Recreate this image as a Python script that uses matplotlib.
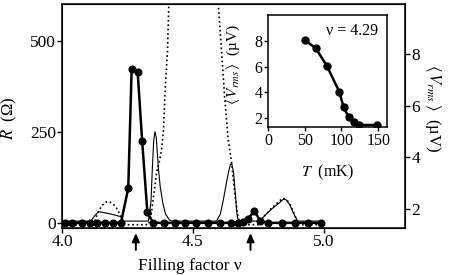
import matplotlib
matplotlib.use('Agg')
import matplotlib.pyplot as plt

plt.rcParams['font.family'] = ['Liberation Serif', 'DejaVu Serif']
plt.rcParams['mathtext.fontset'] = 'stix'

# thick line with markers: noise <V_rms> (uV) vs filling factor
nu_noise = [4.01, 4.04, 4.075, 4.105, 4.135, 4.165, 4.195, 4.225, 4.253, 4.266, 4.289,
            4.306, 4.326, 4.348, 4.39, 4.431, 4.47, 4.51, 4.558, 4.603, 4.647, 4.673,
            4.692, 4.71, 4.735, 4.757, 4.785, 4.84, 4.89, 4.94, 4.99]
v_noise = [1.46, 1.46, 1.46, 1.46, 1.46, 1.46, 1.46, 1.46, 2.80, 7.43, 7.30,
           4.65, 1.87, 1.46, 1.46, 1.46, 1.46, 1.46, 1.46, 1.46, 1.46, 1.46,
           1.50, 1.61, 1.92, 1.54, 1.46, 1.46, 1.46, 1.46, 1.46]

# thin solid line: R (Ohm)
nu_r1 = [4.00, 4.11, 4.125, 4.14, 4.17, 4.20, 4.225, 4.235, 4.33, 4.34, 4.345, 4.35,
         4.355, 4.36, 4.368, 4.375, 4.385, 4.395, 4.41, 4.42, 4.59, 4.605, 4.616,
         4.628, 4.635, 4.643, 4.648, 4.655, 4.662, 4.668, 4.673, 4.755, 4.76, 4.80,
         4.83, 4.845, 4.855, 4.87, 4.885, 4.90, 5.00]
r1 = [5, 5, 20, 31, 27, 22, 17, 5, 5, 60, 150, 225,
      251, 235, 151, 100, 55, 25, 8, 5, 5, 25, 63,
      110, 137, 160, 164, 140, 80, 25, 5, 5, 10, 38,
      55, 65, 64, 50, 25, 5, 5]

# dotted line: R (Ohm) at another temperature
nu_r2 = [4.00, 4.12, 4.135, 4.15, 4.165, 4.177, 4.19, 4.205, 4.22, 4.23, 4.24, 4.33,
         4.34, 4.35, 4.361, 4.372, 4.38, 4.387, 4.395, 4.403, 4.41, 4.45, 4.5, 4.55,
         4.59, 4.597, 4.609, 4.622, 4.635, 4.648, 4.66, 4.673, 4.686, 4.76, 4.77,
         4.80, 4.83, 4.845, 4.86, 4.875, 4.89, 4.90, 5.00]
r2 = [-5, -5, 25, 45, 57, 59, 55, 45, 25, 10, -5, -5,
      20, 75, 137, 170, 200, 250, 380, 475, 650, 1000, 1200, 1000,
      700, 600, 475, 338, 228, 164, 80, 13, -5, -5, 17,
      40, 60, 68, 62, 45, 20, -5, -5]

# inset: <V_rms> vs T at nu = 4.29
t_inset = [50, 65, 80, 97, 103, 110, 117, 124, 148]
v_inset = [8.07, 7.42, 6.07, 4.05, 2.83, 2.05, 1.66, 1.46, 1.46]

arrow_nu = [4.282, 4.72]

fig = plt.figure(figsize=(4.5, 2.75), dpi=100)
ax = fig.add_axes([0.1378, 0.1709, 0.7622, 0.8146])
ax.plot(nu_r1, r1, color='black', lw=0.8)
ax.plot(nu_r2, r2, color='black', lw=1.2, ls=':')
ax.set_xlim(4.0, 5.31)
ax.set_ylim(-14, 602)
ax.set_xticks([4.0, 4.5, 5.0])
ax.set_xticklabels(['4.0', '4.5', '5.0'])
ax.set_yticks([0, 250, 500])
ax.tick_params(direction='out', length=3.5, width=1, labelsize=12.5, pad=1)
for s in ax.spines.values():
    s.set_linewidth(1.1)
ax.set_xlabel('Filling factor ν', fontsize=12.5)
ax.set_ylabel(r'$R$  (Ω)', fontsize=12)
ax.yaxis.set_label_coords(-0.125, 0.49)
ax.xaxis.set_label_coords(0.373, -0.135)

for a in arrow_nu:
    ax.annotate('', xy=(a, -0.01), xytext=(a, -0.11),
                xycoords=('data', 'axes fraction'), textcoords=('data', 'axes fraction'),
                arrowprops=dict(arrowstyle='-|>,head_width=0.22,head_length=0.5',
                                color='black', lw=1.4), annotation_clip=False)

ax2 = ax.twinx()
ax2.plot(nu_noise, v_noise, color='black', lw=1.8, marker='o', ms=4.8)
ax2.set_ylim(1.26, 9.95)
ax2.set_yticks([2, 4, 6, 8])
ax2.tick_params(direction='out', length=3.5, width=1, labelsize=12.5, pad=1)
ax2.set_ylabel(r'$\langle\,V_{rms}\,\rangle$  (µV)', fontsize=12, rotation=270)
ax2.yaxis.set_label_coords(1.11, 0.536)

ins = fig.add_axes([0.5956, 0.538, 0.2644, 0.407])
ins.plot(t_inset, v_inset, color='black', lw=1.8, marker='o', ms=5)
ins.set_xlim(0, 162)
ins.set_ylim(1.3, 10.0)
ins.set_xticks([0, 50, 100, 150])
ins.set_yticks([2, 4, 6, 8])
ins.tick_params(direction='out', length=3, width=1, labelsize=11.5, pad=1)
for s in ins.spines.values():
    s.set_linewidth(1.1)
ins.text(0.71, 0.855, 'ν = 4.29', transform=ins.transAxes, ha='center', va='center',
         fontsize=11.5)
ins.set_xlabel(r'$T$  (mK)', fontsize=11.5)
ins.xaxis.set_label_coords(0.5, -0.32)
ins.set_ylabel(r'$\langle\,V_{rms}\,\rangle$  (µV)', fontsize=11)
ins.yaxis.set_label_coords(-0.22, 0.56)

fig.savefig('out.png', dpi=100)
